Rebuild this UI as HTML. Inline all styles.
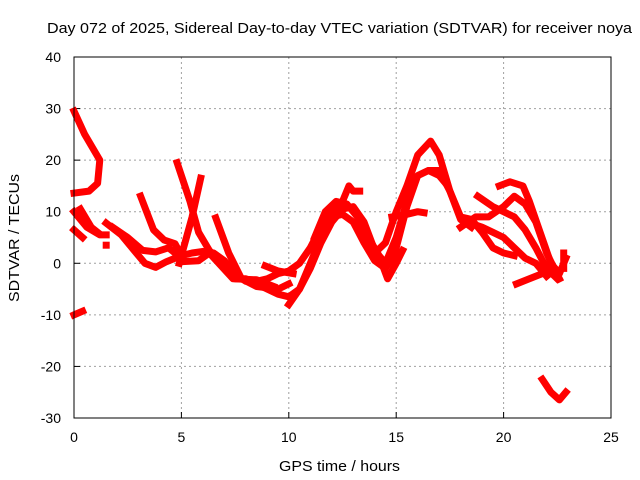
<!DOCTYPE html>
<html><head><meta charset="utf-8"><style>
body{margin:0;background:#fff}
svg{display:block;font-family:"Liberation Sans",sans-serif}
</style></head><body>
<svg id="chart" width="640" height="480">
<rect width="640" height="480" fill="#fff"/>
<text x="47" y="33" font-size="15" textLength="585" lengthAdjust="spacingAndGlyphs">Day 072 of 2025, Sidereal Day-to-day VTEC variation (SDTVAR) for receiver noya</text>
<text x="279" y="471" font-size="15" textLength="121" lengthAdjust="spacingAndGlyphs">GPS time / hours</text>
<text transform="translate(19,302) rotate(-90)" font-size="15" textLength="128" lengthAdjust="spacingAndGlyphs">SDTVAR / TECUs</text>
<g id="grid"></g><g id="ticks"></g><g id="series"></g>
<rect x="74" y="57" width="537" height="361" fill="none" stroke="#000" stroke-width="1"/>
</svg>
<script>
const xTicks=[0,5,10,15,20,25];
const yTicks=[-30,-20,-10,0,10,20,30,40];
const tA=[[0,29.5],[0.5,25],[1.2,20],[1.1,15.5],[0.7,14],[0,13.6]];
const tB=[[0,10],[0.6,7],[1.2,5.5],[1.5,5.5]];
const tC=[[0.3,10.5],[0.8,7],[1.1,6]];
const tD=[[0,6.5],[0.4,5]];
const tE=[[0,-10],[0.4,-9.3]];
const tF=[[1.5,7.8],[2.2,5.5],[2.8,2.5],[3.3,0],[3.8,-0.8],[4.3,0.3],[5,1.5],[5.5,2],[6,2.3],[6.5,2],[7,0.5],[7.5,-2],[8,-3.5],[8.5,-3.5],[9,-3],[9.5,-2],[10,-1.5],[10.5,0],[11,3],[11.5,7],[12,9],[12.5,9.5],[13,8],[13.5,4],[14,0.5],[14.5,-1],[15,2.5]];
const tG=[[1.8,7],[2.5,5],[3.2,2.5],[3.8,2.2],[4.4,3],[5,1]];
const tH=[[3.1,13],[3.7,6.5],[4.2,4.5],[4.7,3.8],[5,1.5]];
const tI=[[4.8,19.5],[5.4,12],[5.8,6],[6.3,2.5],[7,-1],[7.5,-3],[8,-3],[8.5,-4],[9,-5],[9.5,-6],[10,-6.5],[10.5,-5],[11,-1],[11.5,4],[12,8],[12.5,10.5],[13,11],[13.5,8],[14,2.5],[14.5,0],[15,5],[15.5,12],[16,17],[16.5,18],[17,18],[17.5,14],[18,9],[18.5,8.5],[19,6],[19.5,3],[20,2],[20.5,1.5]];
const tJ=[[4.9,0],[5.5,9],[5.9,16.5]];
const tK=[[6.6,8.8],[7.2,2],[7.8,-3],[8.5,-4.5],[9.5,-5],[10,-4]];
const tL=[[8.9,-0.5],[9.5,-1.5],[10.2,-2]];
const tM=[[10,-8],[10.5,-5],[11,0],[11.5,5],[11.8,9],[12.2,11],[12.5,12],[12.8,15],[13,14],[13.3,14]];
const tN=[[11.2,5],[11.7,10],[12.2,12],[12.7,11.5],[13.2,9],[13.7,5],[14.2,1.5],[14.6,-3],[15,0],[15.3,2.5]];
const tO=[[13.5,5],[14,2],[14.5,4],[15,10],[15.5,15],[16,21],[16.6,23.7],[17,21],[17.5,14],[18,8.5],[18.5,7]];
const tP=[[14.8,9],[15.5,9.5],[16,10],[16.3,9.8]];
const tQ=[[15,3],[15.5,11],[16,17],[16.5,18],[17,17],[17.3,15.5]];
const tR=[[18.8,13],[19.5,11],[20,10],[20.5,9],[21,6.5],[21.5,3],[22,-1],[22.5,-3]];
const tS=[[19.8,15],[20.3,15.8],[20.9,15],[21.2,12],[21.7,6],[22.2,0],[22.6,-2],[22.9,1]];
const tT=[[18.3,8],[19,7],[19.5,6],[20,5],[20.5,3],[21,1],[21.5,0],[22,-2.5]];
const tU=[[20.6,-4],[21.2,-3],[21.8,-2],[22.2,-1.5]];
const tV=[[22.8,2],[22.8,-1]];
const tW=[[21.8,-22.5],[22.2,-25],[22.6,-26.5],[22.9,-25]];
const tX=[[18,7],[18.7,9],[19.3,9],[20,11],[20.5,13],[21,11.5],[21.5,8],[22,2],[22.6,-3]];
const tY=[[5,0.3],[5.8,0.5],[6.3,2],[7.4,-3],[8.5,-3.2],[9.3,-4.5]];
const tZ=[[1.5,3.5],[1.5,3.5]];
const tracks=[tA,tB,tC,tD,tE,tF,tG,tH,tI,tJ,tK,tL,tM,tN,tO,tP,tQ,tR,tS,tT,tU,tV,tW,tX,tY,tZ];
const NS='http://www.w3.org/2000/svg';
const X=h=>74+h*537/25;
const Y=v=>418-(v+30)*361/70;
function mk(t,a){const e=document.createElementNS(NS,t);for(const k in a)e.setAttribute(k,a[k]);return e;}
const grid=document.getElementById('grid'),ticks=document.getElementById('ticks'),ser=document.getElementById('series');
xTicks.forEach(t=>{
 if(t>0&&t<25){const g=mk('line',{x1:X(t),x2:X(t),y1:57,y2:418,stroke:'#a0a0a0','stroke-dasharray':'2,3'});
 
 
 grid.appendChild(g);}
 const tk=mk('line',{x1:X(t),x2:X(t),y1:418,y2:412,stroke:'#000'});
 
 
 ticks.appendChild(tk);
 const l=mk('text',{x:X(t),y:442,'font-size':14,'text-anchor':'middle'});l.textContent=t;
 
 
 ticks.appendChild(l);
});
yTicks.forEach(t=>{
 if(t>-30&&t<40){const g=mk('line',{x1:74,x2:611,y1:Y(t),y2:Y(t),stroke:'#a0a0a0','stroke-dasharray':'2,3'});
 
 
 grid.appendChild(g);}
 const tk=mk('line',{x1:74,x2:80,y1:Y(t),y2:Y(t),stroke:'#000'});
 
 
 ticks.appendChild(tk);
 const l=mk('text',{x:61,y:Y(t)+5,'font-size':14,'text-anchor':'end'});l.textContent=t;
 
 
 ticks.appendChild(l);
});
tracks.forEach(tr=>{
 const d=tr.map((p,i)=>(i?'L':'M')+X(p[0]).toFixed(1)+' '+Y(p[1]).toFixed(1)).join(' ');
 const p=mk('path',{d:d,fill:'none',stroke:'#f00','stroke-width':7,'stroke-linejoin':'round','stroke-linecap':'square'});
 
 
 ser.appendChild(p);
});
</script>
</body></html>
